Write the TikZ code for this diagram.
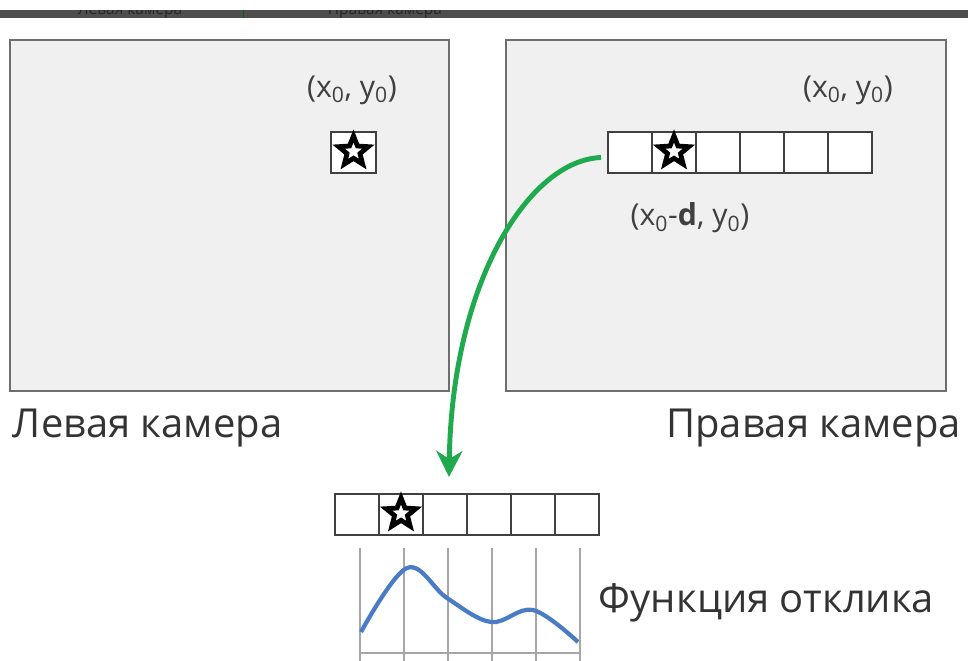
\documentclass[tikz,border=0pt]{standalone}
\usepackage{fontspec}
\setmainfont{Open Sans}
\usetikzlibrary{shapes.geometric,arrows.meta,positioning,calc}
\definecolor{camfill}{HTML}{F0F0F0}
\definecolor{camedge}{HTML}{6E6E6E}
\definecolor{respgreen}{HTML}{1FAA4E}
\definecolor{respblue}{HTML}{4A7CC6}
\definecolor{topbar}{HTML}{4E4E4E}

\begin{document}
\begin{tikzpicture}[
  x=0.025cm,y=-0.025cm,
  cam/.style={rectangle,draw=camedge,line width=1.4pt,fill=camfill,minimum width=10.975cm,minimum height=8.775cm,inner sep=0pt},
  cell/.style={rectangle,draw=black!75,line width=1pt,fill=white,minimum width=1.1cm,minimum height=1.025cm,inner sep=0pt,outer sep=0pt},
  starsym/.style={star,star points=5,star point ratio=2.3,draw=black,line width=3.4pt,fill=white,minimum size=0.78cm,inner sep=0pt},
  xylbl/.style={font=\fontsize{21.5}{26}\selectfont,text=black!75},
  camlbl/.style={font=\fontsize{28.4}{34}\selectfont,text=black!80},
  arr/.style={-{Stealth[length=6.5mm,width=6.5mm,inset=2mm]},line width=3.5pt,respgreen},
  gridln/.style={draw=black!35,line width=1.1pt}
]
\useasboundingbox (0,0) rectangle (968,660);
% cut-off strip at the top
\fill[topbar] (0,10) rectangle (968,18);
\begin{scope}
\clip (0,10) rectangle (968,18);
\node[font=\fontsize{11}{13}\selectfont,text=black!85] (barl) at (130,11) {Левая камера};
\node[font=\fontsize{11}{13}\selectfont,text=black!85] (barr) at (385,11) {Правая камера};
\end{scope}
\draw[green!40!black,line width=0.6pt] (243,10) -- (243,18);

% cameras
\node[cam] (lcam) at (229.5,215.5) {};
\node[cam] (rcam) at (726,215.5) {};

\node[cell,minimum width=1.125cm] (lpix) at (353.5,152.5) {};
\node[starsym] at ($(lpix)+(0,-1)$) {};
\node[xylbl] (lxy) at (352,90) {(x\textsubscript{0}, y\textsubscript{0})};

\node[cell] (r0) at (630,152.5) {};
\foreach \i [count=\j] in {0,...,4}
  \node[cell,right=0pt of r\i] (r\j) {};
\node[starsym] at ($(r1)+(0,-1)$) {};
\node[xylbl] (rxy) at (848,90) {(x\textsubscript{0}, y\textsubscript{0})};
\node[xylbl] (rxyd) at (690,218) {(x\textsubscript{0}-\textbf{d}, y\textsubscript{0})};

% search strip and response
\node[cell] (b0) at (357,514.5) {};
\foreach \i [count=\j] in {0,...,4}
  \node[cell,right=0pt of b\i] (b\j) {};
\node[starsym] at ($(b1)+(0,-1)$) {};

\coordinate (tip) at (449,477);
\draw[arr] ($(r0.west)+(-7,5)$) .. controls (530,160) and (452,280) .. (tip);

\coordinate (gtop) at (0,548);
\coordinate (gbot) at (0,664);
\coordinate (gbase) at (0,653);
\foreach \i in {0,...,5}
  \draw[gridln] ($(b\i |- gtop)+(3,0)$) -- ($(b\i |- gbot)+(3,0)$);
\draw[gridln] ($(b0 |- gbase)+(3,0)$) -- ($(b5 |- gbase)+(3,0)$);
\draw[respblue,line width=3pt] plot[smooth,tension=0.6] coordinates {(361,632) (407,568) (447,598) (491,622) (533,610) (578,642)};

\node[camlbl,anchor=west] (llbl) at (8,428) {Левая камера};
\node[camlbl,anchor=east] (rlbl) at (966,428) {Правая камера};
\node[camlbl,anchor=west] (resp) at (594,603) {Функция отклика};
\end{tikzpicture}
\end{document}
